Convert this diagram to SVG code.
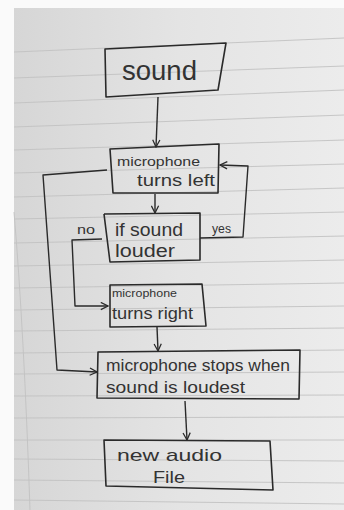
<svg xmlns="http://www.w3.org/2000/svg" width="344" height="510" viewBox="0 0 344 510">
<style>
.box{fill:none;stroke:#2a2a2a;stroke-width:1.6;stroke-linejoin:round}
.ln{fill:none;stroke:#2a2a2a;stroke-width:1.4;stroke-linejoin:round}
.rule{stroke:#c2c2c2;stroke-width:0.9;fill:none}
text{font-family:"Liberation Sans","DejaVu Sans",sans-serif;fill:#333;}
</style>
<defs>
<linearGradient id="paper" x1="0" y1="0" x2="1" y2="0">
<stop offset="0" stop-color="#d6d6d6"/>
<stop offset="0.5" stop-color="#e4e4e4"/>
<stop offset="1" stop-color="#ececec"/>
</linearGradient>
<marker id="arr" viewBox="0 0 10 10" refX="9" refY="5" markerWidth="9" markerHeight="9" markerUnits="userSpaceOnUse" orient="auto">
<path d="M1,1 L9,5 L1,9" fill="none" stroke="#2a2a2a" stroke-width="1.4"/>
</marker>
</defs>
<rect width="344" height="510" fill="#fafafa"/>
<rect x="14" y="8" width="330" height="502" fill="url(#paper)"/>
<g id="rules">
<path class="rule" d="M14,52 L344,38"/>
<path class="rule" d="M14,78 L344,66"/>
<path class="rule" d="M14,103 L344,90"/>
<path class="rule" d="M14,127 L344,115"/>
<path class="rule" d="M14,150 L344,140"/>
<path class="rule" d="M14,173 L344,164"/>
<path class="rule" d="M14,197 L344,188"/>
<path class="rule" d="M14,219 L344,212"/>
<path class="rule" d="M14,243 L344,236"/>
<path class="rule" d="M14,266 L344,260"/>
<path class="rule" d="M14,288 L344,283"/>
<path class="rule" d="M14,310 L344,306"/>
<path class="rule" d="M14,331 L344,328"/>
<path class="rule" d="M14,353 L344,350"/>
<path class="rule" d="M14,374 L344,372"/>
<path class="rule" d="M14,396 L344,395"/>
<path class="rule" d="M14,418 L344,417"/>
<path class="rule" d="M14,440 L344,440"/>
<path class="rule" d="M14,459 L344,461"/>
<path class="rule" d="M14,480 L344,483"/>
<path class="rule" d="M14,500 L344,504"/>
<path class="rule" d="M14,212 Q24,330 30,510"/>
</g>
<g id="connectors">
<path class="ln" d="M158,97 L156,147" marker-end="url(#arr)"/>
<path class="ln" d="M155,194 L155,213" marker-end="url(#arr)"/>
<path class="ln" d="M200,238 L243,237 L248,166 L220,165" marker-end="url(#arr)"/>
<path class="ln" d="M102,239 L72,240 L75,306 L108,306" marker-end="url(#arr)"/>
<path class="ln" d="M157,327 L158,351" marker-end="url(#arr)"/>
<path class="ln" d="M107,170 L43,175 L57,370 L97,372" marker-end="url(#arr)"/>
<path class="ln" d="M185,401 L187,440" marker-end="url(#arr)"/>
</g>
<g id="sound">
<path class="box" d="M105,49 L226,43 L218,90 L106,97 Z"/>
<text x="122" y="80" font-size="27" textLength="75" lengthAdjust="spacingAndGlyphs">sound</text>
</g>
<g id="turns-left">
<path class="box" d="M110,149 L219,144 L218,193 L113,193 Z"/>
<text x="117" y="166" font-size="13" textLength="83" lengthAdjust="spacingAndGlyphs">microphone</text>
<text x="137" y="186" font-size="16" textLength="78" lengthAdjust="spacingAndGlyphs">turns left</text>
</g>
<g id="if-louder">
<path class="box" d="M104,214 L200,213 L200,260 L110,262 L104,214"/>
<text x="115" y="236" font-size="18" textLength="68" lengthAdjust="spacingAndGlyphs">if sound</text>
<text x="115" y="257" font-size="18" textLength="60" lengthAdjust="spacingAndGlyphs">louder</text>
</g>
<g id="labels">
<text x="77" y="234" font-size="13" textLength="18" lengthAdjust="spacingAndGlyphs">no</text>
<text x="212" y="233" font-size="13" textLength="19" lengthAdjust="spacingAndGlyphs">yes</text>
</g>
<g id="turns-right">
<path class="box" d="M110,285 L202,284 L206,326 L110,327 Z"/>
<text x="112" y="297" font-size="10" textLength="65" lengthAdjust="spacingAndGlyphs">microphone</text>
<text x="112" y="319" font-size="16" textLength="81" lengthAdjust="spacingAndGlyphs">turns right</text>
</g>
<g id="stops">
<path class="box" d="M98,352 L300,350 L299,399 L97,398 Z"/>
<text x="106" y="371" font-size="16" textLength="184" lengthAdjust="spacingAndGlyphs">microphone stops when</text>
<text x="106" y="393" font-size="16" textLength="139" lengthAdjust="spacingAndGlyphs">sound is loudest</text>
</g>
<g id="audio-file">
<path class="box" d="M104,440 L270,441 L273,490 L106,486 Z"/>
<text x="117" y="461" font-size="17" textLength="105" lengthAdjust="spacingAndGlyphs">new audio</text>
<text x="153" y="483" font-size="17" textLength="32" lengthAdjust="spacingAndGlyphs">File</text>
</g>
</svg>
